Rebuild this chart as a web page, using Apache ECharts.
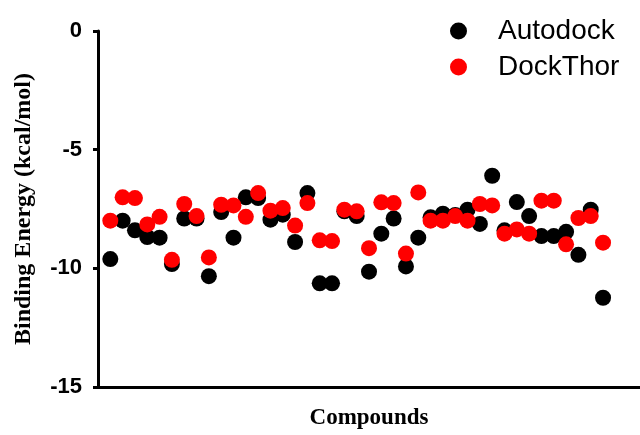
<!DOCTYPE html>
<html>
<head>
<meta charset="utf-8">
<style>
  html, body { margin: 0; padding: 0; background: #fff; }
  #chart { width: 640px; height: 435px; }
</style>
<script src="https://cdn.jsdelivr.net/npm/echarts@6/dist/echarts.min.js"></script>
</head>
<body>
<div id="chart"></div>
<script>
// compound index 1..41 along x, binding energies
const compounds = [1, 2, 3, 4, 5, 6, 7, 8, 9, 10, 11, 12, 13, 14, 15, 16, 17, 18, 19, 20,
  21, 22, 23, 24, 25, 26, 27, 28, 29, 30, 31, 32, 33, 34, 35, 36, 37, 38, 39, 40, 41];
const autodock = [-9.61, -7.99, -8.40, -8.68, -8.71, -9.82, -7.90, -7.90, -10.33, -7.63,
  -8.71, -7.01, -7.04, -7.95, -7.74, -8.89, -6.83, -10.63, -10.63, -7.60,
  -7.80, -10.14, -8.54, -7.90, -9.92, -8.71, -7.85, -7.70, -7.75, -7.53,
  -8.13, -6.10, -8.40, -7.21, -7.80, -8.64, -8.64, -8.46, -9.43, -7.53, -11.24];
const dockthor = [-7.99, -7.01, -7.04, -8.15, -7.83, -9.64, -7.29, -7.80, -9.54, -7.32,
  -7.35, -7.83, -6.83, -7.57, -7.46, -8.20, -7.25, -8.82, -8.85, -7.53,
  -7.60, -9.15, -7.22, -7.25, -9.38, -6.80, -7.99, -7.99, -7.80, -7.99,
  -7.29, -7.35, -8.54, -8.36, -8.54, -7.15, -7.15, -8.99, -7.88, -7.80, -8.92];
const yTicks = [0, -5, -10, -15];

const chart = echarts.init(document.getElementById("chart"));

const pairs = vals => compounds.map((c, i) => [c, vals[i]]);

chart.setOption({
  animation: false,
  grid: {
    left: 98,
    right: 0,
    top: 31,
    bottom: 44
  },
  legend: {
    orient: "vertical",
    left: 445,
    top: 12,
    itemWidth: 17,
    itemHeight: 17,
    itemGap: 8,
    icon: "circle",
    textStyle: {
      fontFamily: "Liberation Sans",
      fontSize: 28,
      lineHeight: 28,
      color: "#000",
      padding: [0, 0, 0, 26]
    },
    data: ["Autodock", "DockThor"]
  },
  xAxis: {
    type: "value",
    min: 0,
    max: 44,
    name: "Compounds",
    nameLocation: "middle",
    nameGap: 20,
    nameTextStyle: {
      fontFamily: "Liberation Serif",
      fontWeight: "bold",
      fontSize: 23,
      color: "#000",
      verticalAlign: "top"
    },
    axisLine: { onZero: false, lineStyle: { color: "#000", width: 3 } },
    axisTick: { show: false },
    axisLabel: { show: false },
    splitLine: { show: false }
  },
  yAxis: {
    type: "value",
    min: yTicks[yTicks.length - 1],
    max: yTicks[0],
    interval: 5,
    name: "Binding Energy (kcal/mol)",
    nameLocation: "middle",
    nameGap: 62,
    nameTextStyle: {
      fontFamily: "Liberation Serif",
      fontWeight: "bold",
      fontSize: 24,
      color: "#000"
    },
    axisLine: { show: true, onZero: false, lineStyle: { color: "#000", width: 3 } },
    axisTick: { show: true, length: 5, lineStyle: { color: "#000", width: 3 } },
    axisLabel: {
      margin: 16,
      fontFamily: "Liberation Sans",
      fontWeight: "bold",
      fontSize: 22,
      color: "#000"
    },
    splitLine: { show: false }
  },
  series: [
    {
      name: "Autodock",
      type: "scatter",
      symbolSize: 16,
      itemStyle: { color: "#000", opacity: 1 },
      data: pairs(autodock)
    },
    {
      name: "DockThor",
      type: "scatter",
      symbolSize: 16,
      itemStyle: { color: "#ff0000", opacity: 1 },
      data: pairs(dockthor)
    }
  ]
});
</script>
</body>
</html>
